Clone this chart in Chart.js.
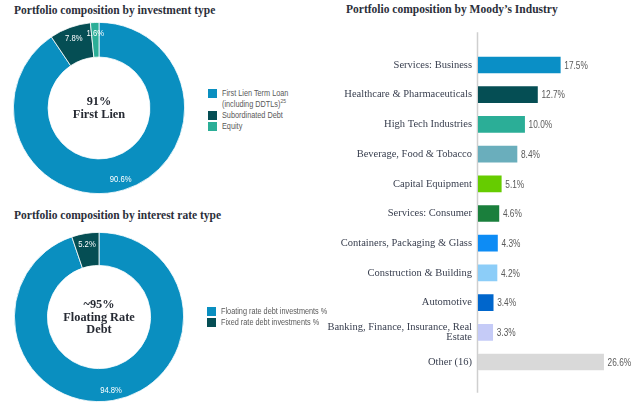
<!DOCTYPE html>
<html><head><meta charset="utf-8">
<script src="https://cdn.jsdelivr.net/npm/chart.js@4.4.0/dist/chart.umd.min.js"></script>
<style>
html,body{margin:0;padding:0;background:#fff;width:640px;height:407px;overflow:hidden;position:relative}
.t{position:absolute;font:bold 11.5px/13px 'Liberation Serif',serif;color:#2b2f3a;white-space:nowrap}
canvas{position:absolute}
.lg{position:absolute;font:8.7px/11px 'Liberation Sans',sans-serif;color:#595959;white-space:nowrap}
.lg .it{position:relative;padding-left:14px}
.lg .tx{transform:scaleX(0.84);transform-origin:0 50%}
.lg .sq{position:absolute;left:0;top:1px;width:9px;height:9px}
.lg sup{font-size:6px;line-height:0;vertical-align:4px}
</style></head>
<body>
<div class="t" style="left:14px;top:3.5px">Portfolio composition by investment type</div>
<div class="t" style="left:14px;top:208.5px">Portfolio composition by interest rate type</div>
<div class="t" style="left:346px;top:2.5px">Portfolio composition by Moody’s Industry</div>
<canvas id="c1" width="198" height="186" style="left:0;top:15px"></canvas>
<canvas id="c2" width="198" height="190" style="left:0;top:220px"></canvas>
<canvas id="c3" width="320" height="407" style="left:320px;top:0"></canvas>
<div class="lg" id="lg1" style="left:208px;top:87.5px"></div>
<div class="lg" id="lg2" style="left:207px;top:305.5px"></div>
<script>
// ---- data ----
const invLabels = [['First Lien Term Loan', '(including DDTLs)'], ['Subordinated Debt'], ['Equity']];
const invNotes = ['25', '', ''];
const invValues = [90.6, 7.8, 1.6];
const invColors = ['#0a8fc0', '#054e54', '#2bae97'];
const invCenter = ['91%', 'First Lien'];

const rateLabels = [['Floating rate debt investments %'], ['Fixed rate debt investments %']];
const rateValues = [94.8, 5.2];
const rateColors = ['#0a8fc0', '#054e54'];
const rateCenter = ['~95%', 'Floating Rate', 'Debt'];

const industries = ['Services: Business', 'Healthcare & Pharmaceuticals', 'High Tech Industries',
  'Beverage, Food & Tobacco', 'Capital Equipment', 'Services: Consumer',
  'Containers, Packaging & Glass', 'Construction & Building', 'Automotive',
  ['Banking, Finance, Insurance, Real', 'Estate'], 'Other (16)'];
const industryValues = [17.5, 12.7, 10.0, 8.4, 5.1, 4.6, 4.3, 4.2, 3.4, 3.3, 26.6];
const industryColors = ['#0a8fc6', '#054e54', '#2bae97', '#6aaebc', '#66cc00', '#1a7f3c',
  '#0d8cf5', '#8ccdf8', '#0066cc', '#c5cbf7', '#d9d9d9'];

const SANS = '"Liberation Sans",Arial,sans-serif';

function narrowText(ctx, text, x, y, sx) {
  ctx.save();
  ctx.translate(x, y);
  ctx.scale(sx, 1);
  ctx.fillText(text, 0, 0);
  ctx.restore();
}

// ---- plugins ----
const sliceLabels = {
  id: 'sliceLabels',
  afterDatasetsDraw(chart) {
    const ctx = chart.ctx, meta = chart.getDatasetMeta(0), data = chart.data.datasets[0].data;
    ctx.save();
    ctx.fillStyle = '#ffffff';
    ctx.font = '9.6px ' + SANS;
    ctx.textAlign = 'center'; ctx.textBaseline = 'middle';
    meta.data.forEach((arc, i) => {
      const p = arc.getProps(['x', 'y', 'startAngle', 'endAngle', 'innerRadius', 'outerRadius'], true);
      const a = (p.startAngle + p.endAngle) / 2;
      const r = p.innerRadius + (p.outerRadius - p.innerRadius) * 0.68;
      narrowText(ctx, data[i].toFixed(1) + '%', p.x + Math.cos(a) * r, p.y + Math.sin(a) * r, 0.8);
    });
    ctx.restore();
  }
};
const centerText = {
  id: 'centerText',
  afterDraw(chart, args, opts) {
    const lines = opts.lines || [];
    const ctx = chart.ctx, ca = chart.chartArea;
    const cx = (ca.left + ca.right) / 2, cy = (ca.top + ca.bottom) / 2;
    const lh = 12.5;
    ctx.save();
    ctx.fillStyle = '#262a33';
    ctx.font = 'bold 12.3px "Liberation Serif",serif';
    ctx.textAlign = 'center'; ctx.textBaseline = 'middle';
    lines.forEach((l, i) => ctx.fillText(l, cx, cy + 0.5 + (i - (lines.length - 1) / 2) * lh));
    ctx.restore();
  }
};

function donut(id, values, colors, center, pad, cutout) {
  new Chart(document.getElementById(id), {
    type: 'doughnut',
    data: { labels: values.map(String), datasets: [{ data: values, backgroundColor: colors, borderColor: '#ffffff', borderWidth: 0.8 }] },
    options: {
      responsive: false, animation: false, cutout: cutout,
      layout: { padding: pad },
      plugins: { legend: { display: false }, tooltip: { enabled: false }, centerText: { lines: center } }
    },
    plugins: [sliceLabels, centerText]
  });
}
donut('c1', invValues, invColors, invCenter, { left: 13, right: 13, top: 7, bottom: 7 }, '59.5%');
donut('c2', rateValues, rateColors, rateCenter, { left: 14, right: 14, top: 12, bottom: 8 }, '61%');

function legend(id, labels, colors, notes) {
  const el = document.getElementById(id);
  labels.forEach((lines, i) => {
    const it = document.createElement('div');
    it.className = 'it';
    const sq = document.createElement('div');
    sq.className = 'sq'; sq.style.background = colors[i];
    it.appendChild(sq);
    lines.forEach((ln, j) => {
      const d = document.createElement('div');
      d.className = 'tx';
      d.textContent = ln;
      if (j === lines.length - 1 && notes && notes[i]) {
        const s = document.createElement('sup'); s.textContent = notes[i]; d.appendChild(s);
      }
      it.appendChild(d);
    });
    el.appendChild(it);
  });
}
legend('lg1', invLabels, invColors, invNotes);
legend('lg2', rateLabels, rateColors, null);

const axisLine = {
  id: 'axisLine',
  beforeDatasetsDraw(chart) {
    const ctx = chart.ctx, ca = chart.chartArea;
    ctx.save();
    ctx.strokeStyle = '#cfcfcf'; ctx.lineWidth = 1.5;
    ctx.beginPath();
    ctx.moveTo(ca.left - 0.5, ca.top - 18);
    ctx.lineTo(ca.left - 0.5, ca.bottom + 16);
    ctx.stroke();
    ctx.restore();
  }
};
const barValues = {
  id: 'barValues',
  afterDatasetsDraw(chart) {
    const ctx = chart.ctx, meta = chart.getDatasetMeta(0), data = chart.data.datasets[0].data;
    ctx.save();
    ctx.fillStyle = '#5a5a5a';
    ctx.font = '10px ' + SANS;
    ctx.textAlign = 'left'; ctx.textBaseline = 'middle';
    meta.data.forEach((b, i) => narrowText(ctx, data[i].toFixed(1) + '%', b.x + 3, b.y + 1, 0.83));
    ctx.restore();
  }
};

new Chart(document.getElementById('c3'), {
  type: 'bar',
  data: {
    labels: industries,
    datasets: [{ data: industryValues, backgroundColor: industryColors, borderColor: 'rgba(255,255,255,0.45)', borderWidth: 1, barThickness: 18 }]
  },
  options: {
    indexAxis: 'y', responsive: false, animation: false,
    layout: { padding: { top: 50.15, bottom: 30.15, right: 19.2, left: 0 } },
    scales: {
      x: { display: false, min: 0, max: 30 },
      y: {
        grid: { display: false, drawTicks: false }, border: { display: false },
        ticks: { color: '#3a4050', font: { family: '"Liberation Serif",serif', size: 10.5, lineHeight: 0.9 }, padding: 6, autoSkip: false },
        afterFit(s) { s.width = 158; }
      }
    },
    plugins: { legend: { display: false }, tooltip: { enabled: false } }
  },
  plugins: [axisLine, barValues]
});
</script>
</body></html>
